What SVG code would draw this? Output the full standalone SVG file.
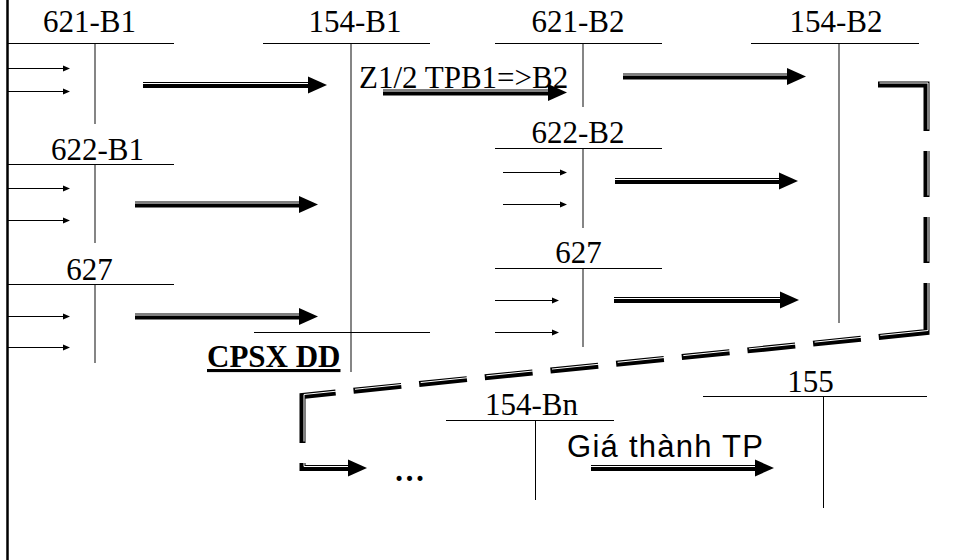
<svg xmlns="http://www.w3.org/2000/svg" width="954" height="560" viewBox="0 0 954 560">
  <style>
    .lbl { font-family: "Liberation Serif", "Times New Roman", serif; font-size: 31px; fill: #000; text-anchor: middle; }
    .txt { font-family: "Liberation Serif", "Times New Roman", serif; font-size: 31px; fill: #000; }
    .sans { font-family: "Liberation Sans", Arial, sans-serif; font-size: 31px; fill: #000; }
    .bold { font-weight: bold; text-decoration: underline; }
    .heavy { font-weight: bold; }
    .hl { stroke: #000; stroke-width: 1; fill: none; }
    .vl { stroke: #858585; stroke-width: 2; fill: none; }
    .vk { stroke: #000; stroke-width: 1; fill: none; }
    .thin { stroke: #000; stroke-width: 1; fill: none; }
    .head { fill: #000; stroke: none; }
    .dbl { stroke: #000; stroke-width: 6; fill: none; }
    .gap { stroke: #fff; stroke-width: 1; fill: none; }
    .dash { stroke: #000; stroke-width: 6; fill: none; stroke-linejoin: miter;
            stroke-dasharray: 95 20 46 20 46 20 97 18 48 18 48 18 48 18 48 18 48 18 48 18 48 18 48 18 80.3 20 200; }
    .dashgap { stroke: #fff; stroke-width: 1; fill: none;
            stroke-dasharray: 95 20 46 20 46 20 97 18 48 18 48 18 48 18 48 18 48 18 48 18 48 18 48 18 80.3 20 200; }
  </style>

  <!-- left frame edge -->
  <line x1="7.5" y1="0" x2="7.5" y2="560" stroke="#000" stroke-width="2.5"/>

  <!-- T-accounts, phase B1 -->
  <g id="acc-621-B1">
    <text class="lbl" x="89.5" y="32">621-B1</text>
    <line class="hl" x1="8" y1="43.5" x2="174" y2="43.5"/>
    <line class="vl" x1="95" y1="44" x2="95" y2="124"/>
  </g>
  <g id="acc-622-B1">
    <text class="lbl" x="97.5" y="160">622-B1</text>
    <line class="hl" x1="8" y1="164.5" x2="174" y2="164.5"/>
    <line class="vl" x1="95" y1="165" x2="95" y2="243"/>
  </g>
  <g id="acc-627-B1">
    <text class="lbl" x="89.5" y="280">627</text>
    <line class="hl" x1="8" y1="284.5" x2="174" y2="284.5"/>
    <line class="vl" x1="95" y1="285" x2="95" y2="363"/>
  </g>
  <g id="acc-154-B1">
    <text class="lbl" x="355" y="32">154-B1</text>
    <line class="hl" x1="263" y1="43.5" x2="430" y2="43.5"/>
    <line class="vl" x1="351" y1="44" x2="351" y2="372"/>
  </g>
  <g id="cpsx-dd">
    <line class="hl" x1="254" y1="332.5" x2="430" y2="332.5"/>
    <text class="txt bold" x="207" y="367">CPSX DD</text>
  </g>

  <!-- T-accounts, phase B2 -->
  <g id="acc-621-B2">
    <text class="lbl" x="578" y="32">621-B2</text>
    <line class="hl" x1="495" y1="43.5" x2="662" y2="43.5"/>
    <line class="vl" x1="583" y1="44" x2="583" y2="107"/>
  </g>
  <g id="acc-622-B2">
    <text class="lbl" x="578" y="143">622-B2</text>
    <line class="hl" x1="495" y1="148.5" x2="662" y2="148.5"/>
    <line class="vl" x1="583" y1="149" x2="583" y2="228"/>
  </g>
  <g id="acc-627-B2">
    <text class="lbl" x="578.5" y="263">627</text>
    <line class="hl" x1="495" y1="268.5" x2="662" y2="268.5"/>
    <line class="vl" x1="583" y1="269" x2="583" y2="347"/>
  </g>
  <g id="acc-154-B2">
    <text class="lbl" x="836" y="32">154-B2</text>
    <line class="hl" x1="751" y1="43.5" x2="919" y2="43.5"/>
    <line class="vl" x1="839" y1="44" x2="839" y2="323"/>
  </g>

  <!-- final phase -->
  <g id="acc-154-Bn">
    <text class="lbl" x="531.5" y="415">154-Bn</text>
    <line class="hl" x1="446" y1="420.5" x2="614" y2="420.5"/>
    <line class="vk" x1="535.5" y1="421" x2="535.5" y2="500"/>
  </g>
  <g id="acc-155">
    <text class="lbl" x="810.5" y="392">155</text>
    <line class="hl" x1="703" y1="396.5" x2="927" y2="396.5"/>
    <line class="vk" x1="823.5" y1="397" x2="823.5" y2="508"/>
  </g>
  <g id="ellipsis">
    <text class="txt heavy" x="394" y="481">…</text>
  </g>

  <!-- connectors -->
  <g id="connectors">
    <!-- incoming entries -->
    <g id="entries">
      <line class="thin" x1="8" y1="68.5" x2="63" y2="68.5"/><polygon class="head" points="63,65.5 70,68.5 63,71.5"/>
      <line class="thin" x1="8" y1="91.5" x2="63" y2="91.5"/><polygon class="head" points="63,88.5 70,91.5 63,94.5"/>
      <line class="thin" x1="8" y1="188.5" x2="63" y2="188.5"/><polygon class="head" points="63,185.5 70,188.5 63,191.5"/>
      <line class="thin" x1="8" y1="220.5" x2="63" y2="220.5"/><polygon class="head" points="63,217.5 70,220.5 63,223.5"/>
      <line class="thin" x1="8" y1="316.5" x2="63" y2="316.5"/><polygon class="head" points="63,313.5 70,316.5 63,319.5"/>
      <line class="thin" x1="8" y1="347.5" x2="63" y2="347.5"/><polygon class="head" points="63,344.5 70,347.5 63,350.5"/>
      <line class="thin" x1="503" y1="172.5" x2="560" y2="172.5"/><polygon class="head" points="560,169.5 567,172.5 560,175.5"/>
      <line class="thin" x1="503" y1="204.5" x2="560" y2="204.5"/><polygon class="head" points="560,201.5 567,204.5 560,207.5"/>
      <line class="thin" x1="495" y1="300.5" x2="552" y2="300.5"/><polygon class="head" points="552,297.5 559,300.5 552,303.5"/>
      <line class="thin" x1="495" y1="332.5" x2="552" y2="332.5"/><polygon class="head" points="552,329.5 559,332.5 552,335.5"/>
    </g>

    <!-- transfers (double-line arrows) -->
    <g id="transfers">
      <line class="dbl" x1="143" y1="85" x2="310" y2="85"/><line class="gap" x1="143" y1="83.5" x2="310" y2="83.5"/>
      <polygon class="head" points="308,76.5 327,85 308,93.5"/>

      <line class="dbl" x1="135" y1="204.5" x2="301" y2="204.5"/><line class="gap" x1="135" y1="203" x2="301" y2="203"/>
      <polygon class="head" points="299,196 318,204.5 299,213"/>

      <line class="dbl" x1="135" y1="316.5" x2="301" y2="316.5"/><line class="gap" x1="135" y1="315" x2="301" y2="315"/>
      <polygon class="head" points="299,308 318,316.5 299,325"/>

      <line class="dbl" x1="383" y1="92.5" x2="550" y2="92.5"/><line class="gap" x1="383" y1="91" x2="550" y2="91"/>
      <polygon class="head" points="548,84 567,92.5 548,101"/>

      <line class="dbl" x1="623" y1="76.5" x2="789" y2="76.5"/><line class="gap" x1="623" y1="75" x2="789" y2="75"/>
      <polygon class="head" points="787,68 806,76.5 787,85"/>

      <line class="dbl" x1="615" y1="181" x2="781" y2="181"/><line class="gap" x1="615" y1="179.5" x2="781" y2="179.5"/>
      <polygon class="head" points="779,172.5 798,181 779,189.5"/>

      <line class="dbl" x1="614" y1="300" x2="782" y2="300"/><line class="gap" x1="614" y1="298.5" x2="782" y2="298.5"/>
      <polygon class="head" points="780,291.5 799,300 780,308.5"/>

      <line class="dbl" x1="591" y1="468" x2="757" y2="468"/><line class="gap" x1="591" y1="466.5" x2="757" y2="466.5"/>
      <polygon class="head" points="755,459.5 774,468 755,476.5"/>
    </g>

    <!-- carry-over from B2 to Bn (long-dashed double line) -->
    <g id="carry-over">
      <path class="dash" d="M878,84.5 H926.5 V332 L302.5,396 V468 H350"/>
      <path class="dashgap" transform="translate(1.5,-1.5)" d="M878,84.5 H926.5 V332 L302.5,396 V468 H350"/>
      <polygon class="head" points="348,459.5 367,468 348,476.5"/>
    </g>
  </g>

  <!-- flow labels -->
  <text class="txt" x="359" y="88">Z1/2 TPB1=&gt;B2</text>
  <text class="sans" x="567" y="457" textLength="196" lengthAdjust="spacing">Giá thành TP</text>
</svg>
